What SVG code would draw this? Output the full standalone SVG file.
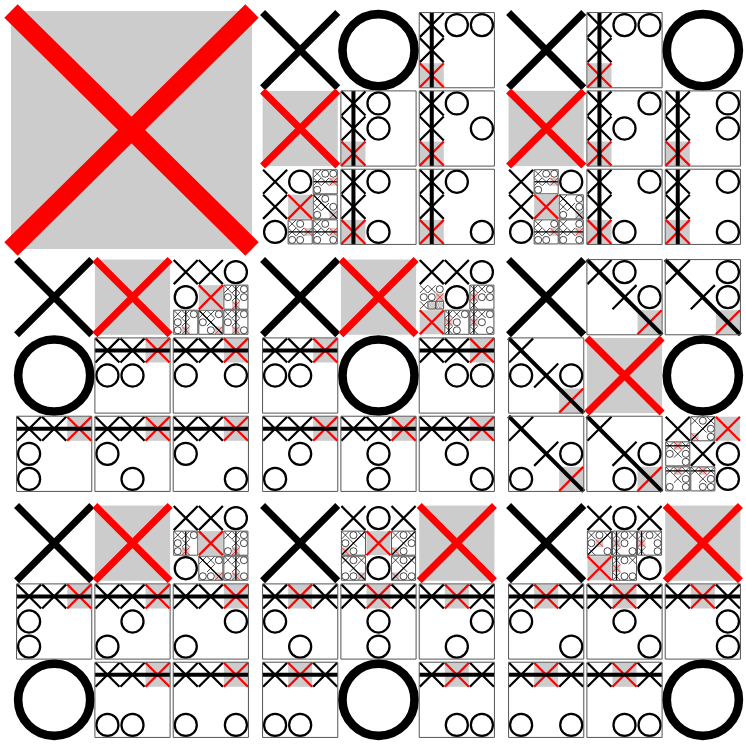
<svg xmlns="http://www.w3.org/2000/svg" width="746" height="744" viewBox="0 0 746 744">
<rect width="746" height="744" fill="#fff"/>
<defs>
<path id="X" d="M2 2L98 98M98 2L2 98" fill="none" stroke="#000" stroke-width="9"/>
<g id="R"><rect x="2" y="2" width="96" height="96" fill="#ccc"/><path d="M2 2L98 98M98 2L2 98" fill="none" stroke="#f00" stroke-width="9"/></g>
<circle id="O" cx="50" cy="50" r="44" fill="none" stroke="#000" stroke-width="9"/>
<circle id="P" cx="50" cy="50" r="46" fill="none" stroke="#000" stroke-width="11"/>
<rect id="B" width="300" height="300" fill="none" stroke="#555" stroke-width="1" vector-effect="non-scaling-stroke"/>
<path id="c0" d="M50 0V300" stroke="#000" stroke-width="16"/>
<path id="c1" d="M150 0V300" stroke="#000" stroke-width="16"/>
<path id="r0" d="M0 50H300" stroke="#000" stroke-width="16"/>
<path id="r1" d="M0 150H300" stroke="#000" stroke-width="16"/>
<path id="dg" d="M0 0L300 300" stroke="#000" stroke-width="16"/>
<path id="ad" d="M300 0L0 300" stroke="#000" stroke-width="16"/>
<g id="s1"><use href="#X"/><use href="#X" y="100"/><use href="#R" y="200"/><use href="#O" x="100"/><use href="#c0"/><use href="#B"/></g>
<g id="s2"><use href="#X"/><use href="#X" y="100"/><use href="#R" y="200"/><use href="#O" x="200"/><use href="#c0"/><use href="#B"/></g>
<g id="s3"><use href="#X"/><use href="#X" x="100"/><use href="#R" x="200"/><use href="#O" y="100"/><use href="#r0"/><use href="#B"/></g>
<g id="s4"><use href="#X"/><use href="#X" x="100"/><use href="#R" x="200"/><use href="#O" x="100" y="100"/><use href="#r0"/><use href="#B"/></g>
<g id="s5"><use href="#X"/><use href="#X" x="100" y="100"/><use href="#R" x="200" y="200"/><use href="#O" x="200" y="100"/><use href="#dg"/><use href="#B"/></g>
<g id="s6"><use href="#X"/><use href="#X" x="100"/><use href="#R" x="200"/><use href="#O" y="200"/><use href="#r0"/><use href="#B"/></g>
<g id="s7"><use href="#X"/><use href="#R" x="100"/><use href="#X" x="200"/><use href="#O" x="100" y="200"/><use href="#r0"/><use href="#B"/></g>
<g id="s8"><use href="#X"/><use href="#R" x="100"/><use href="#X" x="200"/><use href="#O" x="200" y="200"/><use href="#r0"/><use href="#B"/></g>
<g id="b1"><use href="#X"/><use href="#O" x="100"/><use href="#X" y="100"/><use href="#O" y="200"/></g>
<g id="b2"><use href="#X"/><use href="#O" x="200"/><use href="#X" y="100"/><use href="#O" y="200"/></g>
<g id="b3"><use href="#X"/><use href="#X" x="100"/><use href="#O" x="200"/><use href="#O" y="100"/></g>
<g id="b4"><use href="#X"/><use href="#X" x="100"/><use href="#O" x="200"/><use href="#O" x="100" y="100"/></g>
<g id="b5"><use href="#X"/><use href="#X" x="100" y="100"/><use href="#O" x="200" y="100"/><use href="#O" x="200" y="200"/></g>
<g id="b6"><use href="#X"/><use href="#X" x="100"/><use href="#O" x="200"/><use href="#O" y="200"/></g>
<g id="b7"><use href="#X"/><use href="#O" x="100"/><use href="#X" x="200"/><use href="#O" x="100" y="200"/></g>
<g id="b8"><use href="#X"/><use href="#O" x="100"/><use href="#X" x="200"/><use href="#O" x="200" y="200"/></g>
<g id="T1"><use href="#b1"/><use href="#X" x="100" y="100"/></g>
<g id="T2"><use href="#b2"/><use href="#X" x="100" y="100"/></g>
<g id="T3"><use href="#b3"/><use href="#X" x="100" y="100"/></g>
<g id="T4"><use href="#b4"/><use href="#X" y="200"/></g>
<g id="T5"><use href="#b5"/><use href="#X" x="200"/></g>
<g id="T6"><use href="#b6"/><use href="#X" x="100" y="100"/></g>
<g id="T7"><use href="#b7"/><use href="#X" x="100" y="100"/></g>
<g id="T8"><use href="#b8"/><use href="#X" y="200"/></g>
<g id="M4"><use href="#T4"/><use href="#O" y="100"/><use href="#X" x="200" y="100"/></g>
</defs>

<g id="n0"><rect x="11" y="11" width="241" height="238" fill="#ccc"/><path d="M11 11L252 249M252 11L11 249" fill="none" stroke="#f00" stroke-width="19"/></g>

<g id="n1" transform="translate(261 11) scale(.78333)">
<use href="#X"/>
<use href="#P" x="100"/>
<g transform="translate(202 2) scale(.32)"><use href="#s1"/><use href="#O" x="200"/></g>
<use href="#R" y="100"/>
<g transform="translate(102 102) scale(.32)"><use href="#s1"/><use href="#O" x="100" y="100"/></g>
<g transform="translate(202 102) scale(.32)"><use href="#s1"/><use href="#O" x="200" y="100"/></g>
<g transform="translate(2 202) scale(.32)">
<use href="#b1"/><use href="#R" x="100" y="100"/>
<g transform="translate(202 2) scale(.32)"><use href="#T1"/><use href="#O" x="200"/><use href="#R" x="200" y="100"/><use href="#r1"/><use href="#B"/></g>
<g transform="translate(202 102) scale(.32)"><use href="#T1"/><use href="#O" x="200" y="100"/><use href="#R" x="200" y="200"/><use href="#dg"/><use href="#B"/></g>
<g transform="translate(102 202) scale(.32)"><use href="#T1"/><use href="#O" x="100" y="200"/><use href="#R" x="200" y="100"/><use href="#r1"/><use href="#B"/></g>
<g transform="translate(202 202) scale(.32)"><use href="#T1"/><use href="#O" x="200" y="200"/><use href="#R" x="200" y="100"/><use href="#r1"/><use href="#B"/></g>
</g>
<g transform="translate(102 202) scale(.32)"><use href="#s1"/><use href="#O" x="100" y="200"/></g>
<g transform="translate(202 202) scale(.32)"><use href="#s1"/><use href="#O" x="200" y="200"/></g>
</g>

<g id="n2" transform="translate(507 11) scale(.78333)">
<use href="#X"/>
<g transform="translate(102 2) scale(.32)"><use href="#s2"/><use href="#O" x="100"/></g>
<use href="#P" x="200"/>
<use href="#R" y="100"/>
<g transform="translate(102 102) scale(.32)"><use href="#s2"/><use href="#O" x="100" y="100"/></g>
<g transform="translate(202 102) scale(.32)"><use href="#s2"/><use href="#O" x="200" y="100"/></g>
<g transform="translate(2 202) scale(.32)">
<use href="#b2"/><use href="#R" x="100" y="100"/>
<g transform="translate(102 2) scale(.32)"><use href="#T2"/><use href="#O" x="100"/><use href="#R" x="200" y="100"/><use href="#r1"/><use href="#B"/></g>
<g transform="translate(202 102) scale(.32)"><use href="#T2"/><use href="#O" x="200" y="100"/><use href="#R" x="200" y="200"/><use href="#dg"/><use href="#B"/></g>
<g transform="translate(102 202) scale(.32)"><use href="#T2"/><use href="#O" x="100" y="200"/><use href="#R" x="200" y="100"/><use href="#r1"/><use href="#B"/></g>
<g transform="translate(202 202) scale(.32)"><use href="#T2"/><use href="#O" x="200" y="200"/><use href="#R" x="200" y="100"/><use href="#r1"/><use href="#B"/></g>
</g>
<g transform="translate(102 202) scale(.32)"><use href="#s2"/><use href="#O" x="100" y="200"/></g>
<g transform="translate(202 202) scale(.32)"><use href="#s2"/><use href="#O" x="200" y="200"/></g>
</g>

<g id="n3" transform="translate(15 258) scale(.78333)">
<use href="#X"/>
<use href="#R" x="100"/>
<g transform="translate(202 2) scale(.32)">
<use href="#b3"/><use href="#R" x="100" y="100"/>
<g transform="translate(202 102) scale(.32)"><use href="#T3"/><use href="#O" x="200" y="100"/><use href="#R" x="100" y="200"/><use href="#c1"/><use href="#B"/></g>
<g transform="translate(2 202) scale(.32)"><use href="#T3"/><use href="#O" y="200"/><use href="#R" x="100" y="200"/><use href="#c1"/><use href="#B"/></g>
<g transform="translate(102 202) scale(.32)"><use href="#T3"/><use href="#O" x="100" y="200"/><use href="#R" x="200" y="200"/><use href="#dg"/><use href="#B"/></g>
<g transform="translate(202 202) scale(.32)"><use href="#T3"/><use href="#O" x="200" y="200"/><use href="#R" x="100" y="200"/><use href="#c1"/><use href="#B"/></g>
</g>
<use href="#P" y="100"/>
<g transform="translate(102 102) scale(.32)"><use href="#s3"/><use href="#O" x="100" y="100"/></g>
<g transform="translate(202 102) scale(.32)"><use href="#s3"/><use href="#O" x="200" y="100"/></g>
<g transform="translate(2 202) scale(.32)"><use href="#s3"/><use href="#O" y="200"/></g>
<g transform="translate(102 202) scale(.32)"><use href="#s3"/><use href="#O" x="100" y="200"/></g>
<g transform="translate(202 202) scale(.32)"><use href="#s3"/><use href="#O" x="200" y="200"/></g>
</g>

<g id="n4" transform="translate(261 258) scale(.78333)">
<use href="#X"/>
<use href="#R" x="100"/>
<g transform="translate(202 2) scale(.32)">
<use href="#b4"/><use href="#R" y="200"/>
<g transform="translate(2 102) scale(.32)">
<use href="#T4"/><use href="#O" y="100"/><use href="#R" x="200" y="100"/>
<g transform="translate(102 202) scale(.32)"><use href="#M4"/><use href="#O" x="100" y="200"/><use href="#R" x="200" y="200"/><use href="#B"/></g>
<g transform="translate(202 202) scale(.32)"><use href="#M4"/><use href="#O" x="200" y="200"/><use href="#R" x="100" y="200"/><use href="#B"/></g>
</g>
<g transform="translate(202 102) scale(.32)"><use href="#T4"/><use href="#O" x="200" y="100"/><use href="#R" y="100"/><use href="#c0"/><use href="#B"/></g>
<g transform="translate(102 202) scale(.32)"><use href="#T4"/><use href="#O" x="100" y="200"/><use href="#R" y="100"/><use href="#c0"/><use href="#B"/></g>
<g transform="translate(202 202) scale(.32)"><use href="#T4"/><use href="#O" x="200" y="200"/><use href="#R" y="100"/><use href="#c0"/><use href="#B"/></g>
</g>
<g transform="translate(2 102) scale(.32)"><use href="#s4"/><use href="#O" y="100"/></g>
<use href="#P" x="100" y="100"/>
<g transform="translate(202 102) scale(.32)"><use href="#s4"/><use href="#O" x="200" y="100"/></g>
<g transform="translate(2 202) scale(.32)"><use href="#s4"/><use href="#O" y="200"/></g>
<g transform="translate(102 202) scale(.32)"><use href="#s4"/><use href="#O" x="100" y="200"/></g>
<g transform="translate(202 202) scale(.32)"><use href="#s4"/><use href="#O" x="200" y="200"/></g>
</g>

<g id="n5" transform="translate(507 258) scale(.78333)">
<use href="#X"/>
<g transform="translate(102 2) scale(.32)"><use href="#s5"/><use href="#O" x="100"/></g>
<g transform="translate(202 2) scale(.32)"><use href="#s5"/><use href="#O" x="200"/></g>
<g transform="translate(2 102) scale(.32)"><use href="#s5"/><use href="#O" y="100"/></g>
<use href="#R" x="100" y="100"/>
<use href="#P" x="200" y="100"/>
<g transform="translate(2 202) scale(.32)"><use href="#s5"/><use href="#O" y="200"/></g>
<g transform="translate(102 202) scale(.32)"><use href="#s5"/><use href="#O" x="100" y="200"/></g>
<g transform="translate(202 202) scale(.32)">
<use href="#b5"/><use href="#R" x="200"/>
<g transform="translate(102 2) scale(.32)"><use href="#T5"/><use href="#O" x="100"/><use href="#R" y="200"/><use href="#ad"/><use href="#B"/></g>
<g transform="translate(2 102) scale(.32)"><use href="#T5"/><use href="#O" y="100"/><use href="#R" x="100"/><use href="#r0"/><use href="#B"/></g>
<g transform="translate(2 202) scale(.32)"><use href="#T5"/><use href="#O" y="200"/><use href="#R" x="100"/><use href="#r0"/><use href="#B"/></g>
<g transform="translate(102 202) scale(.32)"><use href="#T5"/><use href="#O" x="100" y="200"/><use href="#R" x="100"/><use href="#r0"/><use href="#B"/></g>
</g>
</g>

<g id="n6" transform="translate(15 504) scale(.78333)">
<use href="#X"/>
<use href="#R" x="100"/>
<g transform="translate(202 2) scale(.32)">
<use href="#b6"/><use href="#R" x="100" y="100"/>
<g transform="translate(2 102) scale(.32)"><use href="#T6"/><use href="#O" y="100"/><use href="#R" x="100" y="200"/><use href="#c1"/><use href="#B"/></g>
<g transform="translate(202 102) scale(.32)"><use href="#T6"/><use href="#O" x="200" y="100"/><use href="#R" x="100" y="200"/><use href="#c1"/><use href="#B"/></g>
<g transform="translate(102 202) scale(.32)"><use href="#T6"/><use href="#O" x="100" y="200"/><use href="#R" x="200" y="200"/><use href="#dg"/><use href="#B"/></g>
<g transform="translate(202 202) scale(.32)"><use href="#T6"/><use href="#O" x="200" y="200"/><use href="#R" x="100" y="200"/><use href="#c1"/><use href="#B"/></g>
</g>
<g transform="translate(2 102) scale(.32)"><use href="#s6"/><use href="#O" y="100"/></g>
<g transform="translate(102 102) scale(.32)"><use href="#s6"/><use href="#O" x="100" y="100"/></g>
<g transform="translate(202 102) scale(.32)"><use href="#s6"/><use href="#O" x="200" y="100"/></g>
<use href="#P" y="200"/>
<g transform="translate(102 202) scale(.32)"><use href="#s6"/><use href="#O" x="100" y="200"/></g>
<g transform="translate(202 202) scale(.32)"><use href="#s6"/><use href="#O" x="200" y="200"/></g>
</g>

<g id="n7" transform="translate(261 504) scale(.78333)">
<use href="#X"/>
<g transform="translate(102 2) scale(.32)">
<use href="#b7"/><use href="#R" x="100" y="100"/>
<g transform="translate(2 102) scale(.32)"><use href="#T7"/><use href="#O" y="100"/><use href="#R" y="200"/><use href="#ad"/><use href="#B"/></g>
<g transform="translate(202 102) scale(.32)"><use href="#T7"/><use href="#O" x="200" y="100"/><use href="#R" y="200"/><use href="#ad"/><use href="#B"/></g>
<g transform="translate(2 202) scale(.32)"><use href="#T7"/><use href="#O" y="200"/><use href="#R" x="200" y="200"/><use href="#dg"/><use href="#B"/></g>
<g transform="translate(202 202) scale(.32)"><use href="#T7"/><use href="#O" x="200" y="200"/><use href="#R" y="200"/><use href="#ad"/><use href="#B"/></g>
</g>
<use href="#R" x="200"/>
<g transform="translate(2 102) scale(.32)"><use href="#s7"/><use href="#O" y="100"/></g>
<g transform="translate(102 102) scale(.32)"><use href="#s7"/><use href="#O" x="100" y="100"/></g>
<g transform="translate(202 102) scale(.32)"><use href="#s7"/><use href="#O" x="200" y="100"/></g>
<g transform="translate(2 202) scale(.32)"><use href="#s7"/><use href="#O" y="200"/></g>
<use href="#P" x="100" y="200"/>
<g transform="translate(202 202) scale(.32)"><use href="#s7"/><use href="#O" x="200" y="200"/></g>
</g>

<g id="n8" transform="translate(507 504) scale(.78333)">
<use href="#X"/>
<g transform="translate(102 2) scale(.32)">
<use href="#b8"/><use href="#R" y="200"/>
<g transform="translate(2 102) scale(.32)"><use href="#T8"/><use href="#O" y="100"/><use href="#R" x="100" y="100"/><use href="#ad"/><use href="#B"/></g>
<g transform="translate(102 102) scale(.32)"><use href="#T8"/><use href="#O" x="100" y="100"/><use href="#R" y="100"/><use href="#c0"/><use href="#B"/></g>
<g transform="translate(202 102) scale(.32)"><use href="#T8"/><use href="#O" x="200" y="100"/><use href="#R" y="100"/><use href="#c0"/><use href="#B"/></g>
<g transform="translate(102 202) scale(.32)"><use href="#T8"/><use href="#O" x="100" y="200"/><use href="#R" y="100"/><use href="#c0"/><use href="#B"/></g>
</g>
<use href="#R" x="200"/>
<g transform="translate(2 102) scale(.32)"><use href="#s8"/><use href="#O" y="100"/></g>
<g transform="translate(102 102) scale(.32)"><use href="#s8"/><use href="#O" x="100" y="100"/></g>
<g transform="translate(202 102) scale(.32)"><use href="#s8"/><use href="#O" x="200" y="100"/></g>
<g transform="translate(2 202) scale(.32)"><use href="#s8"/><use href="#O" y="200"/></g>
<g transform="translate(102 202) scale(.32)"><use href="#s8"/><use href="#O" x="100" y="200"/></g>
<use href="#P" x="200" y="200"/>
</g>
</svg>
